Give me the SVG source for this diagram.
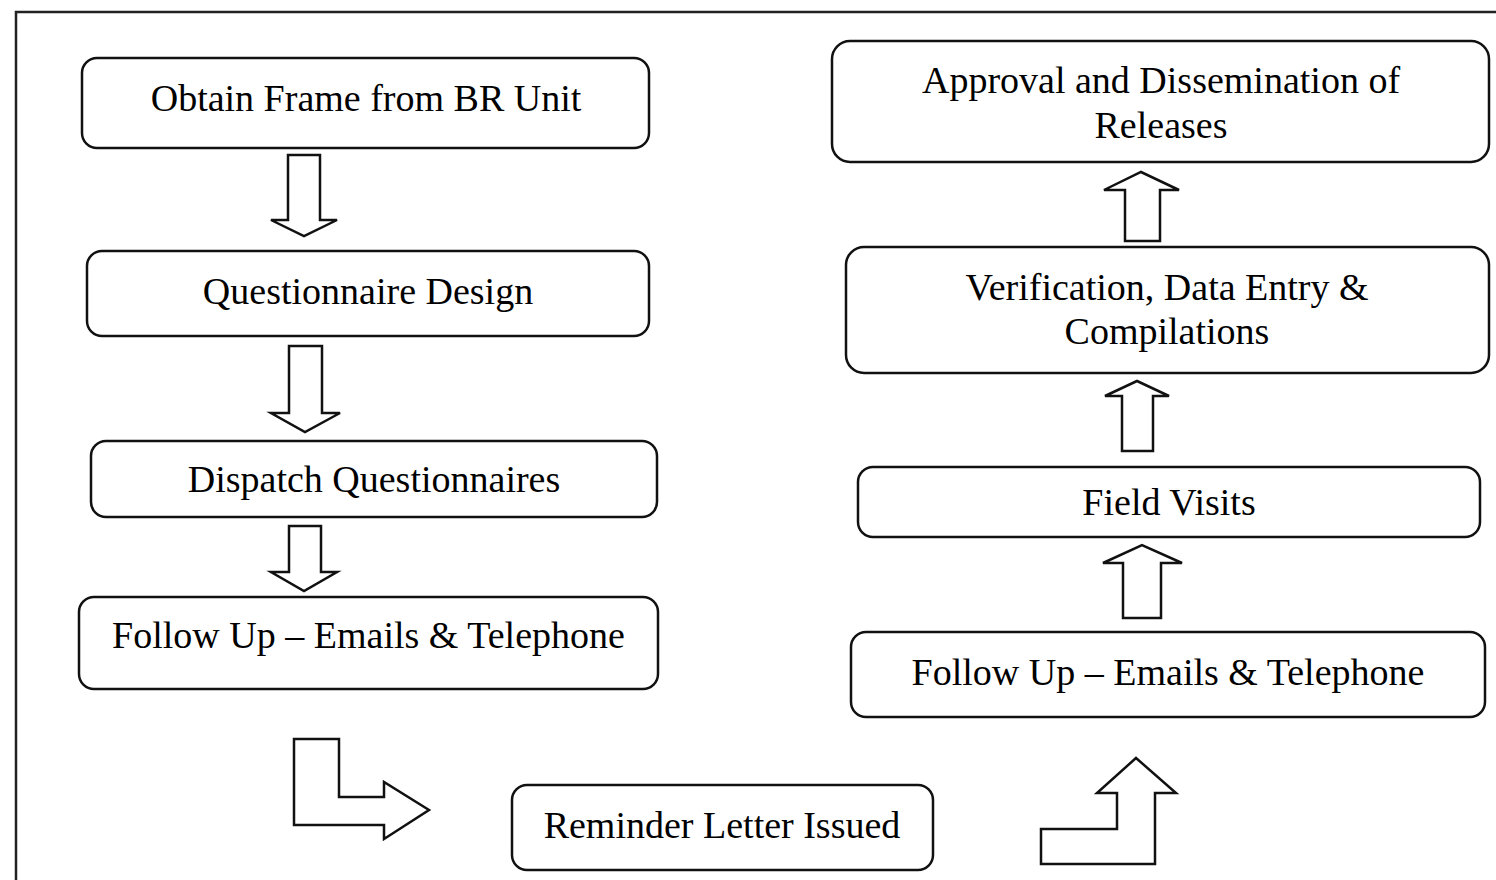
<svg xmlns="http://www.w3.org/2000/svg" width="1496" height="880" viewBox="0 0 1496 880">
<style>
.box{fill:#fff;stroke:#111;stroke-width:2.5}
.arr{fill:#fff;stroke:#111;stroke-width:2.5;stroke-linejoin:miter}
.t{font-family:"Liberation Serif","Times New Roman",serif;font-size:38px;fill:#000;text-anchor:middle}
</style>
<rect x="0" y="0" width="1496" height="880" fill="#fff"/>
<rect x="16" y="12" width="1500" height="900" fill="none" stroke="#222" stroke-width="2.5"/>
<g id="n1"><rect class="box" x="82" y="58" width="567" height="90" rx="15"/><text class="t" x="366" y="111">Obtain Frame from BR Unit</text></g>
<g id="n2"><rect class="box" x="87" y="251" width="562" height="85" rx="15"/><text class="t" x="368" y="304">Questionnaire Design</text></g>
<g id="n3"><rect class="box" x="91" y="441" width="566" height="76" rx="15"/><text class="t" x="374" y="492">Dispatch Questionnaires</text></g>
<g id="n4"><rect class="box" x="79" y="597" width="579" height="92" rx="15"/><text class="t" x="368.5" y="648">Follow Up – Emails &amp; Telephone</text></g>
<g id="n5"><rect class="box" x="512" y="785" width="421" height="85" rx="15"/><text class="t" x="722" y="838">Reminder Letter Issued</text></g>
<g id="n6"><rect class="box" x="851" y="632" width="634" height="85" rx="15"/><text class="t" x="1168" y="685">Follow Up – Emails &amp; Telephone</text></g>
<g id="n7"><rect class="box" x="858" y="467" width="622" height="70" rx="15"/><text class="t" x="1169" y="515">Field Visits</text></g>
<g id="n8"><rect class="box" x="846" y="247" width="643" height="126" rx="18"/><text class="t" x="1167" y="300">Verification, Data Entry &amp;</text><text class="t" x="1167" y="344">Compilations</text></g>
<g id="n9"><rect class="box" x="832" y="41" width="657" height="121" rx="18"/><text class="t" x="1161" y="93">Approval and Dissemination of</text><text class="t" x="1161" y="138">Releases</text></g>
<g id="connectors">
<polygon class="arr" points="288,155 320,155 320,220 337,220 304,236 271,220 288,220"/>
<polygon class="arr" points="289,346 322,346 322,413 340,413 305,432 271,413 289,413"/>
<polygon class="arr" points="289,526 321,526 321,572 337,572 304,591 271,572 289,572"/>
<polygon class="arr" points="294,739 339,739 339,797 384,797 384,782 429,810 384,839 384,825 294,825"/>
<polygon class="arr" points="1041,864 1155,864 1155,793 1176,793 1136,758 1097,793 1117,793 1117,829 1041,829"/>
<polygon class="arr" points="1123,618 1161,618 1161,563 1182,563 1142,545 1103,563 1123,563"/>
<polygon class="arr" points="1122,451 1153,451 1153,396 1169,396 1137,381 1105,396 1122,396"/>
<polygon class="arr" points="1125,241 1160,241 1160,190 1179,190 1141,172 1104,190 1125,190"/>
</g>
</svg>
